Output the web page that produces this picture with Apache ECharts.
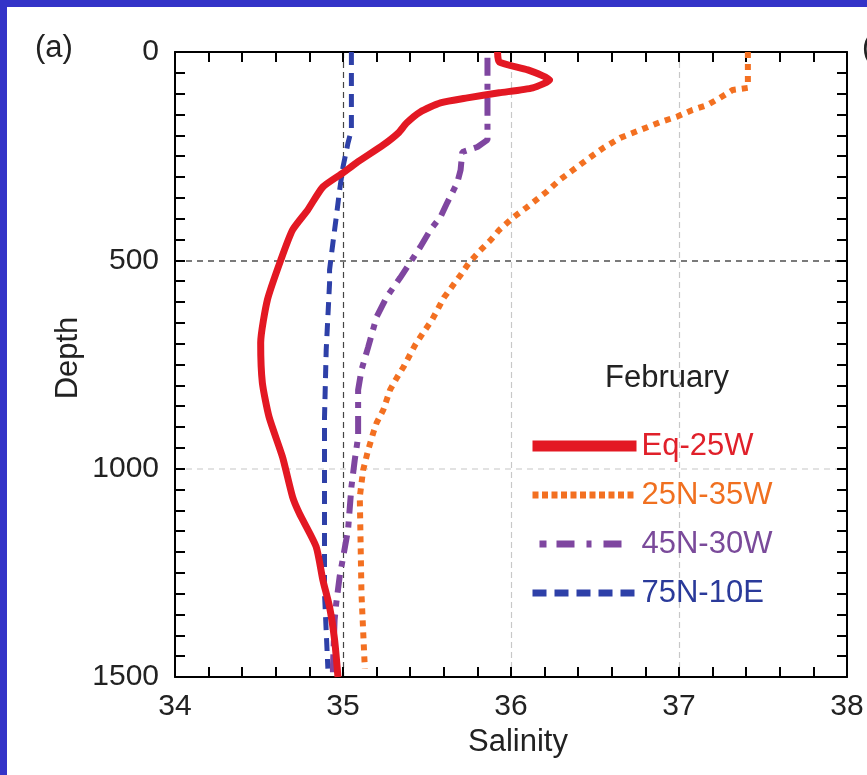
<!DOCTYPE html>
<html>
<head>
<meta charset="utf-8">
<script src="https://cdn.jsdelivr.net/npm/echarts@6/dist/echarts.min.js"></script>
<style>
	html, body { margin:0; padding:0; background:#3434c8; width:867px; height:775px; overflow:hidden; }
	#chart { position:absolute; left:7px; top:7px; width:860px; height:768px; background:#fff; }
</style>
</head>
<body>
<div id="chart"></div>
<script>
	var salinityTicks = [34, 35, 36, 37, 38];
	var depthTicks = [0, 500, 1000, 1500];
	var names = ['Eq-25W', '25N-35W', '45N-30W', '75N-10E'];

	// Eq-25W
	var eqDepth = [0, 24, 43, 67, 86, 98, 110, 122, 144, 170, 194, 223, 266, 290, 324, 379, 427, 499, 595, 698, 794, 876, 972, 1068, 1107, 1187, 1267, 1332, 1411, 1500];
	var eqSal = [35.92, 35.93, 36.10, 36.23, 36.13, 35.93, 35.74, 35.58, 35.46, 35.38, 35.33, 35.24, 35.08, 35.00, 34.88, 34.79, 34.70, 34.63, 34.55, 34.51, 34.52, 34.56, 34.64, 34.70, 34.74, 34.84, 34.88, 34.92, 34.95, 34.97];
	// 25N-35W
	var n25Depth = [0, 86, 91, 111, 127, 139, 155, 168, 187, 206, 230, 259, 283, 307, 336, 374, 398, 427, 451, 475, 506, 535, 590, 643, 672, 703, 756, 782, 811, 859, 890, 914, 955, 1003, 1068, 1300, 1480];
	var n25Sal = [37.41, 37.41, 37.32, 37.24, 37.17, 37.08, 36.99, 36.89, 36.77, 36.65, 36.55, 36.45, 36.37, 36.29, 36.21, 36.09, 36.01, 35.93, 35.88, 35.82, 35.75, 35.70, 35.60, 35.53, 35.48, 35.43, 35.36, 35.32, 35.28, 35.24, 35.20, 35.18, 35.15, 35.12, 35.10, 35.11, 35.13];
	// 45N-30W
	var n45Depth = [14, 211, 228, 240, 283, 314, 362, 396, 427, 468, 499, 542, 588, 636, 708, 763, 811, 859, 924, 979, 1044, 1147, 1259, 1322, 1363, 1476, 1500];
	var n45Sal = [35.86, 35.86, 35.80, 35.71, 35.70, 35.68, 35.62, 35.58, 35.52, 35.46, 35.41, 35.34, 35.26, 35.20, 35.15, 35.11, 35.09, 35.09, 35.09, 35.07, 35.05, 35.03, 34.98, 34.96, 34.95, 34.94, 34.94];
	// 75N-10E
	var n75Depth = [0, 187, 218, 276, 331, 396, 458, 523, 555, 715, 876, 1068, 1300, 1480];
	var n75Sal = [35.05, 35.05, 35.03, 35.00, 34.98, 34.96, 34.94, 34.92, 34.92, 34.90, 34.89, 34.89, 34.89, 34.91];

	var lineColors = ['#e31823', '#f37021', '#7f46a0', '#2e40a8'];
	var textColors = ['#e0202a', '#f07020', '#7a4a9a', '#2a3a9a'];

	function pairs(sal, depth){
		var out = [];
		for(var i = 0; i < sal.length; i++){
			out.push([sal[i], depth[i]]);
		}
		return out;
	}

	var font = 'Liberation Sans, Arial, Helvetica, sans-serif';

	function xAxis(pos, showLabel){
		return {
			type:'value', position:pos, min:salinityTicks[0], max:salinityTicks[salinityTicks.length-1], interval:1,
			axisLine:{ show:true, onZero:false, lineStyle:{ color:'#000', width:2 } },
			axisTick:{ show:true, inside:true, length:10, lineStyle:{ color:'#000', width:2 } },
			minorTick:{ show:true, splitNumber:5, length:10, lineStyle:{ color:'#000', width:2 } },
			axisLabel:{ show:showLabel, color:'#222', fontSize:30, fontFamily:font, margin:15 },
			splitLine:{ show:showLabel, lineStyle:{ type:[6, 4], width:1.2, color:['#fff', '#444', '#c8c8c8', '#c8c8c8', '#fff'] } }
		};
	}
	function yAxis(pos, showLabel){
		return {
			type:'value', position:pos, inverse:true, min:depthTicks[0], max:depthTicks[depthTicks.length-1], interval:500,
			axisLine:{ show:true, onZero:false, lineStyle:{ color:'#000', width:2 } },
			axisTick:{ show:true, inside:true, length:10, lineStyle:{ color:'#000', width:2 } },
			minorTick:{ show:true, splitNumber:10, length:10, lineStyle:{ color:'#000', width:2 } },
			axisLabel:{ show:showLabel, color:'#222', fontSize:30, fontFamily:font, margin:16, formatter:function(v){ return String(v); } },
			splitLine:{ show:showLabel, lineStyle:{ type:[6, 5], width:2, color:['#fff', '#7a7a7a', '#e2e2e2', '#fff'] } }
		};
	}

	var styles = [
		{ width:7, type:'solid' },
		{ width:6, type:[6, 6] },
		{ width:6, type:[18, 8, 6, 8] },
		{ width:5, type:[13, 8] }
	];
	// the legend samples are drawn a little heavier than the curves
	var legendStyles = [
		{ width:11, type:'solid' },
		{ width:7, type:[6, 3.5] },
		{ width:7, type:[0, 7, 7, 10, 18, 12, 5, 12, 18, 30] },
		{ width:7, type:[14, 8] }
	];
	var data = [pairs(eqSal, eqDepth), pairs(n25Sal, n25Depth), pairs(n45Sal, n45Depth), pairs(n75Sal, n75Depth)];

	var series = [];
	var legendData = [];
	for(var i = 0; i < names.length; i++){
		series.push({
			name:names[i], type:'line', data:data[i], symbol:'none', smooth:i === 0 ? 0.2 : false,
			xAxisIndex:0, yAxisIndex:0, z:10 - i,
			lineStyle:{ color:lineColors[i], width:styles[i].width, type:styles[i].type, cap:'butt' },
			itemStyle:{ color:lineColors[i] }
		});
		legendData.push({
			name:names[i],
			textStyle:{ color:textColors[i] },
			lineStyle:{ color:lineColors[i], width:legendStyles[i].width, type:legendStyles[i].type, cap:'butt' },
			itemStyle:{ opacity:0 }
		});
	}

	var chart = echarts.init(document.getElementById('chart'), null, { renderer:'canvas' });
	chart.setOption({
		animation:false,
		backgroundColor:'#fff',
		grid:{ left:168, top:45, width:672, height:625, containLabel:false },
		xAxis:[ xAxis('bottom', true), xAxis('top', false) ],
		yAxis:[ yAxis('left', true), yAxis('right', false) ],
		legend:{
			orient:'vertical', left:515, top:418, itemWidth:104, itemHeight:14, itemGap:17,
			textStyle:{ fontSize:31, fontFamily:font, lineHeight:32, padding:[0, 0, 0, 0] },
			data:legendData
		},
		graphic:[
			{ type:'text', left:28, top:26, style:{ text:'(a)', fontSize:31, fontFamily:font, fill:'#222' } },
			{ type:'text', left:855, top:26, style:{ text:'(b)', fontSize:31, fontFamily:font, fill:'#222' } },
			{ type:'text', left:598, top:356, style:{ text:'February', fontSize:31, fontFamily:font, fill:'#222' } },
			{ type:'text', left:461, top:720, style:{ text:'Salinity', fontSize:31, fontFamily:font, fill:'#222' } },
			{ type:'text', x:61, y:351, rotation:Math.PI / 2, style:{ text:'Depth', fontSize:31, fontFamily:font, fill:'#222', align:'center', verticalAlign:'middle' } }
		],
		series:series
	});
</script>
</body>
</html>
